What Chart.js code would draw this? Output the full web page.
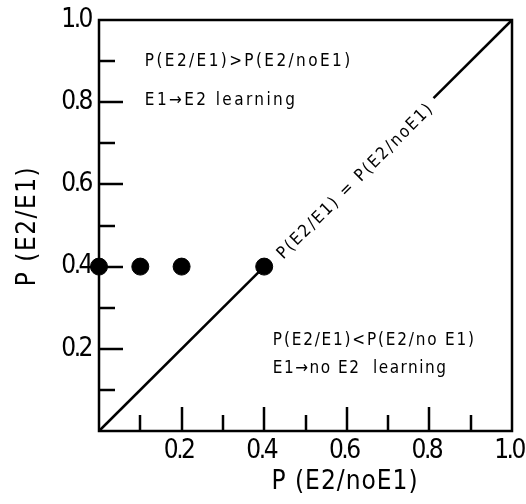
<!DOCTYPE html>
<html><head><meta charset="utf-8">
<script src="https://cdn.jsdelivr.net/npm/chart.js@4/dist/chart.umd.min.js"></script>
<style>html,body{margin:0;padding:0;background:#fff;}</style>
</head><body>
<canvas id="c" width="526" height="504"></canvas>
<script>
// ---- data ----
const pointX = [0, 0.1, 0.2, 0.4];
const pointY = [0.4, 0.4, 0.4, 0.4];
const diagLowerX = [0, 0.4];
const diagLowerY = [0, 0.4];
const diagUpperX = [0.81, 1];
const diagUpperY = [0.81, 1];
const tickLabels = ['', '', '0.2', '', '0.4', '', '0.6', '', '0.8', '', '1.0'];
const xTitle = 'P (E2/noE1)';
const yTitle = 'P (E2/E1)';
const upperText = ['P(E2/E1)>P(E2/noE1)', 'E1\u2192E2 learning'];
const lowerText = ['P(E2/E1)<P(E2/no E1)', 'E1\u2192no E2  learning'];
const diagText = 'P(E2/E1) = P(E2/noE1)';

const FONT = "'Liberation Sans Narrow', 'DejaVu Sans Condensed', 'Liberation Sans', sans-serif";
const LW = 2.5;
const toXY = (xs, ys) => xs.map((v, i) => ({x: v, y: ys[i]}));

const decor = {
  id: 'decor',
  beforeDraw(chart) {
    // tighter spacing for the tick labels drawn by the axes
    chart.ctx.letterSpacing = '-2.5px';
  },
  beforeDatasetsDraw(chart) {
    const {ctx, chartArea: a, scales: {x, y}} = chart;
    ctx.letterSpacing = '0px';
    ctx.save();
    ctx.strokeStyle = '#000';
    ctx.lineWidth = LW;
    y.ticks.forEach(t => {
      const v = Math.round(t.value * 10);
      if (v <= 0 || v >= 10) return;
      const len = v % 2 === 0 ? 24 : 16;
      const py = Math.round(y.getPixelForValue(t.value));
      ctx.beginPath(); ctx.moveTo(a.left, py); ctx.lineTo(a.left + len, py); ctx.stroke();
    });
    x.ticks.forEach(t => {
      const v = Math.round(t.value * 10);
      if (v <= 0 || v >= 10) return;
      const len = v % 2 === 0 ? 24 : 16;
      const px = Math.round(x.getPixelForValue(t.value));
      ctx.beginPath(); ctx.moveTo(px, a.bottom); ctx.lineTo(px, a.bottom - len); ctx.stroke();
    });
    ctx.strokeRect(a.left, a.top, a.right - a.left, a.bottom - a.top);
    ctx.restore();
  },
  afterDatasetsDraw(chart) {
    const {ctx, scales: {x, y}} = chart;
    ctx.save();
    ctx.fillStyle = '#000';
    ctx.textBaseline = 'middle';
    ctx.textAlign = 'left';
    ctx.font = '17px ' + FONT;
    ctx.letterSpacing = '2.4px';
    ctx.fillText(upperText[0], x.getPixelForValue(0.111), y.getPixelForValue(0.898));
    ctx.fillText(upperText[1], x.getPixelForValue(0.111), y.getPixelForValue(0.805));
    ctx.letterSpacing = '1.8px';
    ctx.fillText(lowerText[0], x.getPixelForValue(0.421), y.getPixelForValue(0.221));
    ctx.letterSpacing = '1.5px';
    ctx.fillText(lowerText[1], x.getPixelForValue(0.421), y.getPixelForValue(0.151));
    // diagonal label
    const ang = Math.atan2(y.getPixelForValue(1) - y.getPixelForValue(0), x.getPixelForValue(1) - x.getPixelForValue(0));
    ctx.save();
    ctx.translate(x.getPixelForValue(0.622), y.getPixelForValue(0.608));
    ctx.rotate(ang);
    ctx.textAlign = 'center';
    ctx.letterSpacing = '2px';
    ctx.fillText(diagText, 0, 0);
    ctx.restore();
    // axis titles
    ctx.font = '26px ' + FONT;
    ctx.letterSpacing = '1px';
    ctx.textAlign = 'center';
    ctx.fillText(xTitle, 345, 482);
    ctx.save();
    ctx.translate(28, 226);
    ctx.rotate(-Math.PI / 2);
    ctx.letterSpacing = '1.5px';
    ctx.fillText(yTitle, 0, 0);
    ctx.restore();
    ctx.restore();
  }
};

const tickFont = {family: FONT, size: 26};

new Chart(document.getElementById('c'), {
  type: 'scatter',
  data: {
    datasets: [
      {data: toXY(pointX, pointY), backgroundColor: '#000', borderColor: '#000', pointRadius: 8.5, pointHoverRadius: 8.5, clip: false},
      {type: 'line', data: toXY(diagLowerX, diagLowerY), borderColor: '#000', borderWidth: LW, pointRadius: 0, fill: false, clip: false},
      {type: 'line', data: toXY(diagUpperX, diagUpperY), borderColor: '#000', borderWidth: LW, pointRadius: 0, fill: false, clip: false}
    ]
  },
  options: {
    responsive: false,
    animation: false,
    devicePixelRatio: 1,
    layout: {padding: {top: 20, right: 14, left: 0, bottom: 0}, autoPadding: false},
    plugins: {legend: {display: false}, tooltip: {enabled: false}},
    scales: {
      x: {
        type: 'linear', min: 0, max: 1,
        grid: {display: false, drawTicks: false},
        border: {display: false},
        ticks: {stepSize: 0.1, autoSkip: false, maxRotation: 0, padding: 5, labelOffset: -3, color: '#000', font: tickFont,
          callback: (v) => tickLabels[Math.round(v * 10)] || ''},
        afterFit: (s) => { s.height = 73; s.paddingLeft = 0; s.paddingRight = 0; }
      },
      y: {
        type: 'linear', min: 0, max: 1,
        grid: {display: false, drawTicks: false},
        border: {display: false},
        ticks: {stepSize: 0.1, autoSkip: false, padding: 8, color: '#000', font: tickFont,
          callback: (v) => tickLabels[Math.round(v * 10)] || ''},
        afterFit: (s) => { s.width = 99; s.paddingTop = 0; s.paddingBottom = 0; }
      }
    }
  },
  plugins: [decor]
});
</script>
</body></html>
